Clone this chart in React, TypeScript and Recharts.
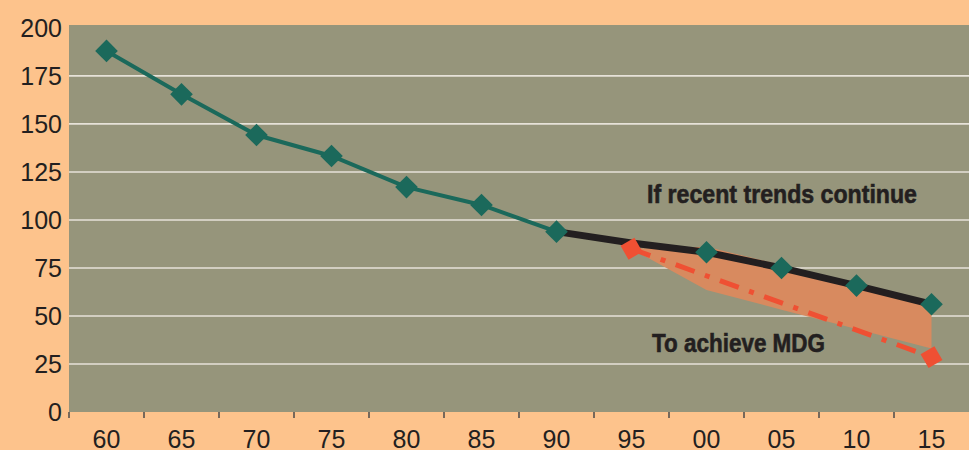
import React from 'react';
import { ComposedChart, Line, Area, XAxis, YAxis, CartesianGrid } from 'recharts';

const years = ['60', '65', '70', '75', '80', '85', '90', '95', '00', '05', '10', '15'];
const observed = [188, 165.4, 144.2, 133.3, 117.1, 107.8, 93.9, null, null, null, null, null];
const trend = [null, null, null, null, null, null, 93.9, 88, 83.2, 75, 65.8, 56.1];
const estimates = [null, null, null, null, null, null, null, null, 83.2, 75, 65.8, 56.1];
const mdgTarget = [null, null, null, null, null, null, null, 85, null, null, null, 28.6];
const gapLow = [null, null, null, null, null, null, null, 85, 63.5, 53.3, 43.2, 33];
const gapHigh = [null, null, null, null, null, null, null, 85, 86, 76.5, 66.5, 56];
const yTicks = [0, 25, 50, 75, 100, 125, 150, 175, 200];
const gridValues = [25, 50, 75, 100, 125, 150, 175];

const data = years.map((year, i) => ({
  year,
  observed: observed[i],
  trend: trend[i],
  estimates: estimates[i],
  mdg: mdgTarget[i],
  gap: gapLow[i] == null ? null : [gapLow[i], gapHigh[i]],
}));

const W = 969;
const H = 450;
const MARGIN = { top: 25, right: 0, bottom: 0, left: 0 };
const Y_W = 69;
const X_H = 38;
const BAND = (W - MARGIN.left - MARGIN.right - Y_W) / years.length;

const PEACH = '#FDC38C';
const PLOT = '#96957B';
const TEAL = '#1B695B';
const RED = '#EF5033';
const INK = '#231F20';
const FONT = '"Liberation Sans", Arial, sans-serif';
const NARROW = '"Liberation Sans Narrow", "Liberation Sans", Arial, sans-serif';

const XTick = (props: any) => {
  const { x, y, payload } = props;
  const lx = x - BAND / 2;
  return (
    <g>
      <line x1={lx} x2={lx} y1={y - 18} y2={y - 12} stroke="#4a4a4a" strokeWidth={1.5} />
      <text x={x} y={y} dy="0.71em" textAnchor="middle" fontSize={25} fontFamily={FONT} fill={INK}>
        {payload.value}
      </text>
    </g>
  );
};

const tealDiamond = (props: any) => {
  const { cx, cy, index } = props;
  if (cx == null || cy == null || props.value == null) return <g key={`td-${index}`} />;
  const s = 16;
  return (
    <rect
      key={`td-${index}`}
      x={cx - s / 2}
      y={cy - s / 2}
      width={s}
      height={s}
      fill={TEAL}
      transform={`rotate(45 ${cx} ${cy})`}
    />
  );
};

const redSquare = (props: any) => {
  const { cx, cy, index } = props;
  if (cx == null || cy == null || props.value == null) return <g key={`rd-${index}`} />;
  const s = 16;
  return (
    <rect
      key={`rd-${index}`}
      x={cx - s / 2}
      y={cy - s / 2}
      width={s}
      height={s}
      fill={RED}
      transform={`rotate(60 ${cx} ${cy})`}
    />
  );
};

export default function App() {
  return (
    <div style={{ position: 'absolute', left: 0, top: 0, width: W, height: H, background: PEACH, overflow: 'hidden' }}>
      <ComposedChart width={W} height={H} data={data} margin={MARGIN}>
        <CartesianGrid
          horizontal
          vertical={false}
          fill={PLOT}
          fillOpacity={1}
          stroke="#E6E2D8"
          strokeWidth={1.6}
          horizontalValues={gridValues}
        />
        <XAxis
          dataKey="year"
          scale="band"
          height={X_H}
          axisLine={false}
          tickLine={false}
          tickSize={0}
          tickMargin={18}
          interval={0}
          tick={<XTick />}
        />
        <YAxis
          type="number"
          domain={[0, 201.5]}
          ticks={yTicks}
          width={Y_W}
          axisLine={false}
          tickLine={false}
          tickSize={0}
          tickMargin={7}
          tick={{ fontSize: 25, fontFamily: FONT, fill: INK }}
        />
        <Area
          dataKey="gap"
          type="linear"
          stroke="none"
          fill="#D88A5F"
          fillOpacity={1}
          isAnimationActive={false}
          connectNulls={false}
          dot={false}
          activeDot={false}
        />
        <Line
          dataKey="trend"
          type="linear"
          stroke={INK}
          strokeWidth={7}
          dot={false}
          activeDot={false}
          isAnimationActive={false}
        />
        <Line
          dataKey="mdg"
          type="linear"
          stroke={RED}
          strokeWidth={5}
          strokeDasharray="20 11 5 11"
          connectNulls
          dot={redSquare}
          activeDot={false}
          isAnimationActive={false}
        />
        <Line
          dataKey="observed"
          type="linear"
          stroke={TEAL}
          strokeWidth={4}
          dot={tealDiamond}
          activeDot={false}
          isAnimationActive={false}
        />
        <Line
          dataKey="estimates"
          type="linear"
          stroke="none"
          dot={tealDiamond}
          activeDot={false}
          isAnimationActive={false}
        />
      </ComposedChart>
      <svg width={W} height={H} style={{ position: 'absolute', left: 0, top: 0, pointerEvents: 'none' }}>
        <text
          x={647}
          y={203}
          fontFamily={NARROW}
          fontWeight="bold"
          fontSize={26}
          fill={INK}
          stroke={INK}
          strokeWidth={0.6}
          textLength={270}
          lengthAdjust="spacingAndGlyphs"
        >
          If recent trends continue
        </text>
        <text
          x={652}
          y={352}
          fontFamily={NARROW}
          fontWeight="bold"
          fontSize={26}
          fill={INK}
          stroke={INK}
          strokeWidth={0.6}
          textLength={173}
          lengthAdjust="spacingAndGlyphs"
        >
          To achieve MDG
        </text>
      </svg>
    </div>
  );
}
